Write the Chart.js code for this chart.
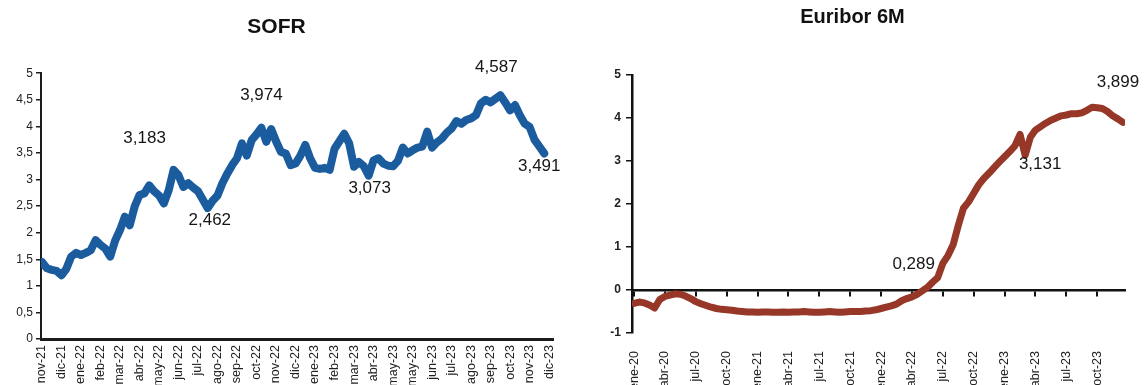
<!DOCTYPE html>
<html>
  <head>
    <title>SOFR y Euribor 6M</title>
    <style>
      body { margin: 0; background: #fff; overflow: hidden; }
      .panel { position: absolute; top: 0; }
      #sofrBox { left: 0; }
      #euriborBox { left: 580px; }
    </style>
  </head>
  <body>
    <script src="https://cdn.jsdelivr.net/npm/chart.js"></script>

    <div id="sofrBox" class="panel"><canvas id="sofrChart" width="580" height="392"></canvas></div>
    <div id="euriborBox" class="panel"><canvas id="euriborChart" width="566" height="392"></canvas></div>

    <script>
      // SOFR: monthly axis labels, one sample every quarter month starting nov-21
      const sofrMonths = ['nov-21', 'dic-21', 'ene-22', 'feb-22', 'mar-22', 'abr-22', 'may-22', 'jun-22', 'jul-22',
        'ago-22', 'sep-22', 'oct-22', 'nov-22', 'dic-22', 'ene-23', 'feb-23', 'mar-23', 'abr-23', 'may-23',
        'may-23', 'jun-23', 'jul-23', 'ago-23', 'sep-23', 'oct-23', 'nov-23', 'dic-23'];
      const sofrStep = 0.25;
      const sofrValues = [
        1.45, 1.33, 1.30, 1.28, 1.20, 1.32, 1.55, 1.62,
        1.58, 1.62, 1.67, 1.86, 1.77, 1.70, 1.55, 1.85,
        2.05, 2.30, 2.14, 2.49, 2.71, 2.74, 2.89, 2.78,
        2.70, 2.55, 2.80, 3.183, 3.08, 2.86, 2.93, 2.85,
        2.78, 2.62, 2.462, 2.60, 2.70, 2.93, 3.11, 3.27,
        3.40, 3.68, 3.45, 3.74, 3.85, 3.974, 3.71, 3.95,
        3.72, 3.52, 3.49, 3.27, 3.30, 3.45, 3.65, 3.40,
        3.22, 3.20, 3.22, 3.18, 3.58, 3.72, 3.86, 3.68,
        3.24, 3.33, 3.25, 3.073, 3.36, 3.40, 3.30, 3.26,
        3.25, 3.35, 3.60, 3.49, 3.55, 3.60, 3.62, 3.90,
        3.60, 3.70, 3.77, 3.88, 3.96, 4.10, 4.05, 4.12,
        4.15, 4.21, 4.43, 4.50, 4.45, 4.52, 4.587, 4.45,
        4.30, 4.40, 4.21, 4.05, 3.99, 3.75, 3.62, 3.491
      ];
      const sofrMarked = [27, 34, 45, 67, 94, 103];
      const sofrMarkOffsets = [[-29, -31], [2, 12], [0, -32], [1, 13], [-4, -28], [-5, 13]];

      // Euribor 6M: quarterly axis labels, one sample every half month starting ene-20
      const euriborQuarters = ['ene-20', 'abr-20', 'jul-20', 'oct-20', 'ene-21', 'abr-21', 'jul-21', 'oct-21',
        'ene-22', 'abr-22', 'jul-22', 'oct-22', 'ene-23', 'abr-23', 'jul-23', 'oct-23'];
      const euriborStep = 0.5;
      const euriborValues = [
        -0.31, -0.28, -0.30, -0.35, -0.42, -0.22, -0.15, -0.12, -0.09, -0.10,
        -0.14, -0.20, -0.27, -0.32, -0.36, -0.40, -0.43, -0.45, -0.46, -0.47,
        -0.49, -0.50, -0.51, -0.51, -0.52, -0.51, -0.51, -0.52, -0.52, -0.51,
        -0.52, -0.51, -0.51, -0.50, -0.51, -0.52, -0.52, -0.51, -0.50, -0.51,
        -0.52, -0.51, -0.50, -0.50, -0.50, -0.49, -0.48, -0.46, -0.43, -0.40,
        -0.37, -0.33, -0.25, -0.20, -0.16, -0.10, -0.02, 0.06, 0.18, 0.289,
        0.62, 0.80, 1.05, 1.50, 1.90, 2.05, 2.25, 2.45, 2.60, 2.72,
        2.85, 2.98, 3.10, 3.22, 3.35, 3.62, 3.131, 3.55, 3.72, 3.80,
        3.88, 3.95, 4.00, 4.05, 4.07, 4.10, 4.10, 4.12, 4.18, 4.25,
        4.24, 4.22, 4.15, 4.05, 3.98, 3.899
      ];
      const euriborMarked = [59, 76, 95];
      const euriborMarkOffsets = [[-24, -13], [15, 9], [-5, -40]];

      const baseFont = "'Liberation Sans', Arial, sans-serif";
      const comma = v => String(v).replace('.', ',');

      // writes the value of selected points next to the line
      const pointLabels = {
        id: 'pointLabels',
        afterDatasetsDraw(chart, args, opts) {
          const { ctx, scales } = chart;
          const pts = chart.data.datasets[0].data;
          ctx.save();
          ctx.font = '17px ' + baseFont;
          ctx.fillStyle = '#161616';
          ctx.textAlign = 'center';
          ctx.textBaseline = 'middle';
          opts.marks.forEach((idx, k) => {
            const p = pts[idx];
            const [dx, dy] = opts.offsets[k];
            ctx.fillText(p.y.toFixed(3).replace('.', ','),
              scales.x.getPixelForValue(p.x) + dx, scales.y.getPixelForValue(p.y) + dy);
          });
          ctx.restore();
        }
      };

      function monthTicks(labels, every) {
        return scale => { scale.ticks = labels.map((_, i) => ({ value: i * every })); };
      }

      // ---- SOFR ----
      new Chart(document.getElementById('sofrChart'), {
        type: 'line',
        data: {
          datasets: [{
            data: sofrValues.map((v, i) => ({ x: i * sofrStep, y: v })),
            borderColor: '#1b5c9f',
            borderWidth: 8,
            borderJoinStyle: 'round',
            borderCapStyle: 'round',
            pointRadius: 0,
            tension: 0
          }]
        },
        plugins: [pointLabels],
        options: {
          responsive: false,
          devicePixelRatio: 1,
          animation: false,
          layout: { padding: { left: 0, right: 27, top: 0, bottom: 0 } },
          plugins: {
            legend: { display: false },
            tooltip: { enabled: false },
            title: {
              display: true,
              text: 'SOFR',
              color: '#111',
              font: { family: baseFont, size: 21, weight: 'bold' },
              padding: { top: 15, bottom: 33 }
            },
            pointLabels: { marks: sofrMarked, offsets: sofrMarkOffsets }
          },
          scales: {
            x: {
              type: 'linear',
              min: -0.05,
              max: 26.2,
              afterBuildTicks: monthTicks(sofrMonths, 1),
              afterFit: s => { s.height = 53; },
              grid: { drawOnChartArea: false, drawTicks: false },
              border: { color: '#1c1c1c', width: 3 },
              ticks: {
                autoSkip: false,
                minRotation: 90,
                maxRotation: 90,
                padding: 6,
                color: '#222',
                font: { family: baseFont, size: 12.5 },
                callback: v => sofrMonths[Math.round(v)]
              }
            },
            y: {
              min: 0,
              max: 5,
              afterFit: s => { s.width = 41; },
              grid: { drawOnChartArea: false, drawTicks: true, tickLength: 5, color: '#1c1c1c', lineWidth: 1.5 },
              border: { color: '#1c1c1c', width: 2 },
              ticks: {
                stepSize: 0.5,
                padding: 3,
                color: '#222',
                font: { family: baseFont, size: 12 },
                callback: v => comma(v)
              }
            }
          }
        }
      });

      // ---- Euribor 6M ----
      new Chart(document.getElementById('euriborChart'), {
        type: 'line',
        data: {
          datasets: [{
            data: euriborValues.map((v, i) => ({ x: i * euriborStep, y: v })),
            borderColor: '#963727',
            borderWidth: 7,
            borderJoinStyle: 'round',
            borderCapStyle: 'round',
            pointRadius: 0,
            tension: 0
          }]
        },
        plugins: [pointLabels],
        options: {
          responsive: false,
          devicePixelRatio: 1,
          animation: false,
          layout: { padding: { left: 0, right: 21, top: 0, bottom: 0 } },
          plugins: {
            legend: { display: false },
            tooltip: { enabled: false },
            title: {
              display: true,
              text: 'Euribor 6M',
              color: '#111',
              font: { family: baseFont, size: 20, weight: 'bold' },
              padding: { top: 5, bottom: 46 }
            },
            pointLabels: { marks: euriborMarked, offsets: euriborMarkOffsets }
          },
          scales: {
            x: {
              type: 'linear',
              min: -0.2,
              max: 47.7,
              afterBuildTicks: monthTicks(euriborQuarters, 3),
              afterFit: s => { s.height = 59; },
              grid: { display: false },
              border: { display: false },
              ticks: {
                autoSkip: false,
                minRotation: 90,
                maxRotation: 90,
                padding: 10,
                color: '#222',
                font: { family: baseFont, size: 12.5 },
                callback: v => euriborQuarters[Math.round(v / 3)]
              }
            },
            // horizontal axis line crossing at zero, with its own tick marks
            zero: {
              type: 'linear',
              axis: 'x',
              position: { y: 0 },
              min: -0.2,
              max: 47.7,
              afterBuildTicks: monthTicks(euriborQuarters, 3),
              grid: { drawOnChartArea: false, drawTicks: true, tickLength: 5, color: '#111', lineWidth: 2 },
              border: { color: '#111', width: 2.5 },
              ticks: { display: false }
            },
            y: {
              min: -1,
              max: 5,
              afterFit: s => { s.width = 52; },
              grid: { drawOnChartArea: false, drawTicks: true, tickLength: 6, color: '#111', lineWidth: 1.5 },
              border: { color: '#111', width: 2.5 },
              ticks: {
                stepSize: 1,
                padding: 5,
                color: '#222',
                font: { family: baseFont, size: 12, weight: 'bold' }
              }
            }
          }
        }
      });
    </script>
  </body>
</html>
